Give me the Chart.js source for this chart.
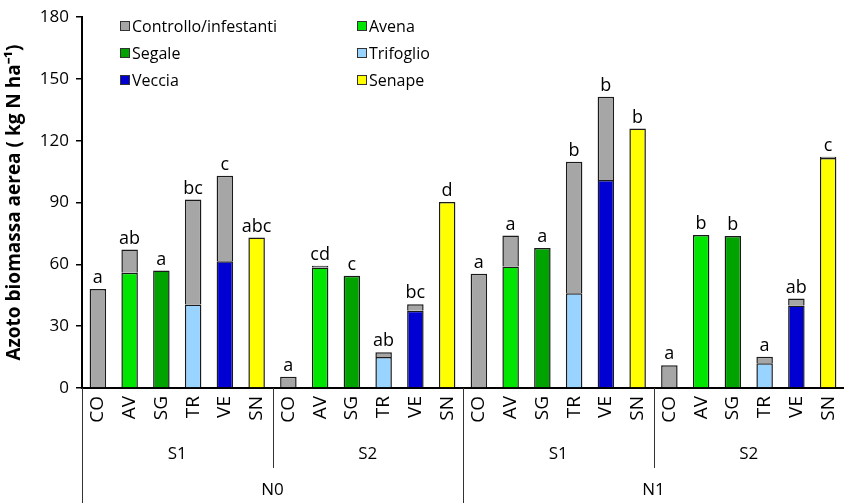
<!DOCTYPE html>
<html>
<head>
    <title>Azoto biomassa aerea</title>
    <script src="https://cdn.jsdelivr.net/npm/chart.js"></script>
    <style>
        html, body { margin: 0; padding: 0; background: #fff; }
        .chart-container { position: relative; width: 844px; height: 503px; }
    </style>
</head>
<body>
    <div class="chart-container">
        <canvas id="barChart"></canvas>
    </div>

    <script>
        // categories (4 groups of 6)
        const categories = ['CO','AV','SG','TR','VE','SN','CO','AV','SG','TR','VE','SN',
                            'CO','AV','SG','TR','VE','SN','CO','AV','SG','TR','VE','SN'];
        const sowingGroups = ['S1', 'S2', 'S1', 'S2'];
        const nitrogenGroups = ['N0', 'N1'];

        // crop N (kg N/ha) per bar
        const cropValues = [null, 56, 57, 40.5, 61.5, 73,
                            null, 58.5, 54.5, 15, 37.5, 90.3,
                            null, 59, 68, 46, 101, 126,
                            null, 74.3, 73.8, 12, 40, 111.6];
        // control / weeds N on top
        const weedValues = [48, 11.2, null, 51, 41.5, null,
                            5.5, 0.8, null, 2.4, 3.2, null,
                            55.5, 15, null, 63.8, 40.4, null,
                            11.1, null, null, 3.2, 3.4, 0.6];
        const letters = ['a','ab','a','bc','c','abc',
                         'a','cd','c','ab','bc','d',
                         'a','a','a','b','b','b',
                         'a','b','b','a','ab','c'];

        const weedLabel = 'Controllo/infestanti';
        const speciesCodes = ['AV', 'SG', 'TR', 'VE', 'SN'];
        const speciesNames = ['Avena', 'Segale', 'Trifoglio', 'Veccia', 'Senape'];
        const speciesColors = ['#00e600', '#00a300', '#99d3ff', '#0000d2', '#ffff00'];
        const weedColor = '#a6a6a6';

        const FONT = "'Open Sans', sans-serif";

        const cropDatasets = speciesCodes.map((code, k) => ({
            label: speciesNames[k],
            data: categories.map((c, i) => c === code ? cropValues[i] : null),
            backgroundColor: speciesColors[k],
            borderColor: '#1a1a1a',
            borderWidth: 1.5,
            stack: 'tot'
        }));
        const weedDataset = {
            label: weedLabel,
            data: weedValues,
            backgroundColor: weedColor,
            borderColor: '#1a1a1a',
            borderWidth: 1.5,
            stack: 'tot'
        };

        // letters above bars
        const lettersPlugin = {
            id: 'letters',
            afterDatasetsDraw(chart) {
                const ctx = chart.ctx;
                const x = chart.scales.x, y = chart.scales.y;
                ctx.save();
                ctx.font = '18px ' + FONT;
                ctx.fillStyle = '#000';
                ctx.textAlign = 'center';
                ctx.textBaseline = 'bottom';
                categories.forEach((c, i) => {
                    const tot = (cropValues[i] || 0) + (weedValues[i] || 0);
                    ctx.fillText(letters[i], x.getPixelForValue(i), y.getPixelForValue(tot) - 2);
                });
                ctx.restore();
            }
        };

        // two-column legend
        const legendPlugin = {
            id: 'twoColLegend',
            afterDraw(chart) {
                const ctx = chart.ctx;
                const items = [[weedLabel, weedColor]].concat(speciesNames.map((n, k) => [n, speciesColors[k]]));
                const colX = [120, 357];
                const rowY = [26, 53, 80];
                ctx.save();
                ctx.font = '16px ' + FONT;
                ctx.textBaseline = 'middle';
                ctx.textAlign = 'left';
                items.forEach((it, k) => {
                    const cx = colX[k % 2], cy = rowY[Math.floor(k / 2)];
                    ctx.fillStyle = it[1];
                    ctx.fillRect(cx, cy - 5, 10, 10);
                    ctx.strokeStyle = '#333';
                    ctx.lineWidth = 1;
                    ctx.strokeRect(cx + 0.5, cy - 4.5, 9, 9);
                    ctx.fillStyle = '#000';
                    ctx.fillText(it[0], cx + 12, cy + 1);
                });
                ctx.restore();
            }
        };

        // multi-level x axis (S1/S2, N0/N1)
        const groupAxisPlugin = {
            id: 'groupAxis',
            afterDraw(chart) {
                const ctx = chart.ctx;
                const x = chart.scales.x;
                const base = x.top;
                const step = (x.right - x.left) / categories.length;
                ctx.save();
                ctx.strokeStyle = '#333';
                ctx.lineWidth = 1;
                ctx.fillStyle = '#000';
                ctx.font = '17px ' + FONT;
                ctx.textAlign = 'center';
                ctx.textBaseline = 'middle';
                sowingGroups.forEach((s, g) => {
                    const x0 = x.left + g * 6 * step;
                    const lineEnd = (g % 2 === 0) ? chart.height : base + 80;
                    ctx.beginPath();
                    ctx.moveTo(Math.round(x0) + 0.5, base);
                    ctx.lineTo(Math.round(x0) + 0.5, lineEnd);
                    ctx.stroke();
                    ctx.fillText(s, x0 + 3 * step, base + 66);
                });
                nitrogenGroups.forEach((n, g) => {
                    const x0 = x.left + g * 12 * step;
                    ctx.fillText(n, x0 + 6 * step, base + 102);
                });
                ctx.restore();
            }
        };

        new Chart(document.getElementById('barChart'), {
            type: 'bar',
            data: {
                labels: categories,
                datasets: [...cropDatasets, weedDataset]
            },
            options: {
                responsive: true,
                maintainAspectRatio: false,
                animation: false,
                barPercentage: 0.52,
                categoryPercentage: 1,
                layout: { padding: { top: 16, right: 0, left: 0, bottom: 0 } },
                plugins: {
                    legend: { display: false },
                    tooltip: { enabled: false }
                },
                scales: {
                    x: {
                        stacked: true,
                        grid: { display: false, drawTicks: false },
                        border: { display: true, color: '#000', width: 2 },
                        ticks: {
                            color: '#000',
                            font: { size: 19, family: FONT },
                            minRotation: 90,
                            maxRotation: 90,
                            padding: 8,
                            autoSkip: false
                        },
                        afterFit(scale) {
                            scale.height = 115;
                            scale.paddingLeft = 0;
                            scale.paddingRight = 0;
                        }
                    },
                    y: {
                        stacked: true,
                        min: 0,
                        max: 180,
                        ticks: {
                            stepSize: 30,
                            color: '#000',
                            font: { size: 17, family: FONT },
                            padding: 7
                        },
                        grid: { drawOnChartArea: false, drawTicks: true, tickLength: 6, color: '#000', lineWidth: 1.5 },
                        border: { display: true, color: '#000', width: 2 },
                        title: {
                            display: true,
                            text: 'Azoto biomassa aerea ( kg N ha⁻¹)',
                            color: '#000',
                            font: { size: 19, weight: 'bold', family: FONT },
                            padding: { top: 3, bottom: 3 }
                        },
                        afterFit(scale) { scale.width = 82; }
                    }
                }
            },
            plugins: [lettersPlugin, legendPlugin, groupAxisPlugin]
        });
    </script>
</body>
</html>
